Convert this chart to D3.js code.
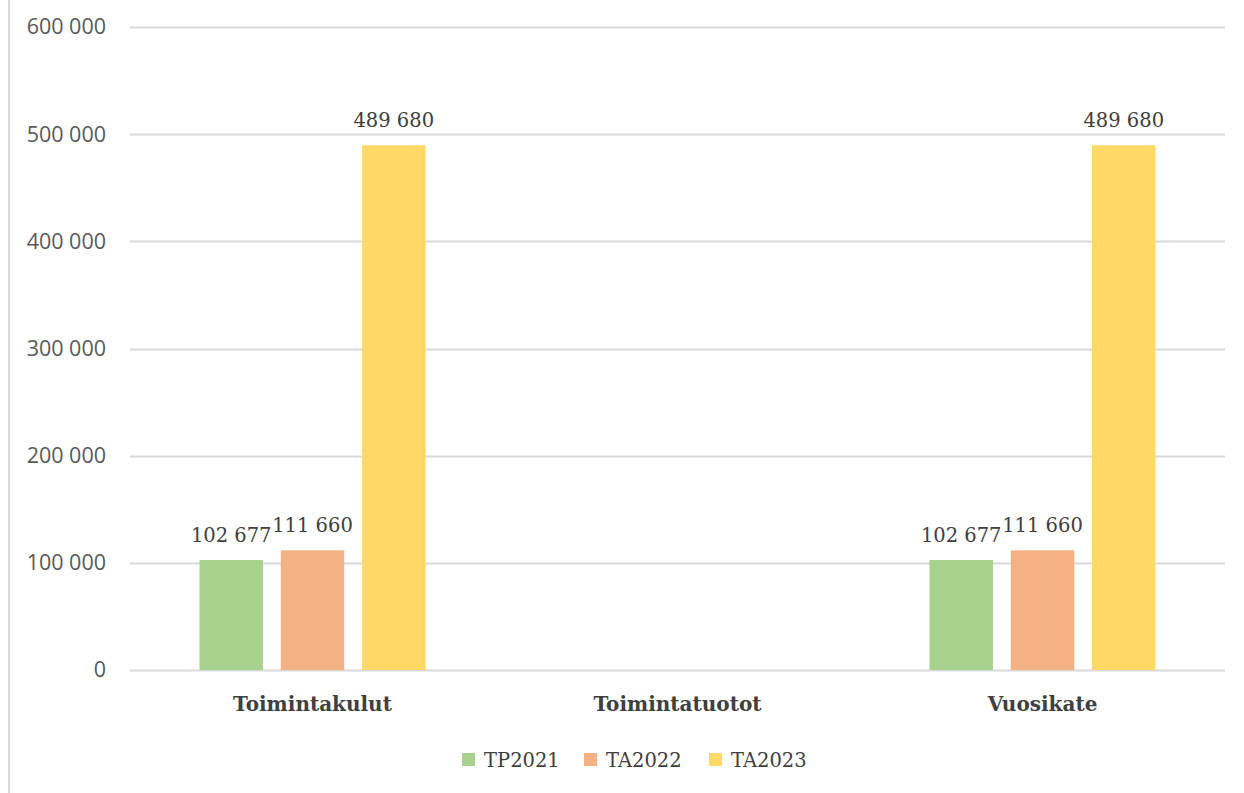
<!DOCTYPE html>
<html><head><meta charset="utf-8">
<script src="https://cdn.jsdelivr.net/npm/d3@7"></script>
<style>body{margin:0;background:#fff}svg{display:block}</style>
</head><body>
<script>
const categories = ["Toimintakulut", "Toimintatuotot", "Vuosikate"];
const seriesNames = ["TP2021", "TA2022", "TA2023"];
const TP2021 = [102677, 0, 102677];
const TA2022 = [111660, 0, 111660];
const TA2023 = [489680, 0, 489680];
const yTicks = [0, 100000, 200000, 300000, 400000, 500000, 600000];
const colors = ["#A9D18E", "#F4B183", "#FFD966"];

const seriesValues = [TP2021, TA2022, TA2023];
const W = 1244, H = 793;
const svg = d3.select("body").append("svg").attr("width", W).attr("height", H);

svg.append("line").attr("x1", 9).attr("x2", 9).attr("y1", 0).attr("y2", H)
  .attr("stroke", "#d9d9d9").attr("stroke-width", 2);

const x0 = d3.scaleBand().domain(categories).range([130, 1225]).paddingInner(0).paddingOuter(0);
const x1 = d3.scaleBand().domain(seriesNames).range([0, x0.bandwidth()]).paddingInner(0.219).paddingOuter(0.855);
const y = d3.scaleLinear().domain([0, 600000]).range([670, 27]);

const fmt = v => d3.format(",")(v).replace(/,/g, " ");

const grid = svg.append("g");
grid.selectAll("line").data(yTicks).join("line")
  .attr("x1", 130).attr("x2", 1225)
  .attr("y1", d => Math.round(y(d)) + 0.5).attr("y2", d => Math.round(y(d)) + 0.5)
  .attr("stroke", "#d9d9d9").attr("stroke-width", 2);

const yAxis = d3.axisLeft(y).tickValues(yTicks).tickFormat(fmt).tickSize(0).tickPadding(0);
const ga = svg.append("g").attr("transform", "translate(106,0)").call(yAxis);
ga.select(".domain").remove();
ga.selectAll("text").attr("font-family", "'Open Sans', sans-serif").attr("font-size", 21.5)
  .attr("fill", "#595959");

const groups = svg.append("g").selectAll("g").data(categories).join("g")
  .attr("transform", d => `translate(${x0(d)},0)`);

seriesNames.forEach((s, si) => {
  groups.filter((c, ci) => seriesValues[si][ci] > 0)
    .append("rect")
    .attr("x", x1(s)).attr("width", x1.bandwidth())
    .attr("y", (c) => y(seriesValues[si][categories.indexOf(c)]))
    .attr("height", (c) => y(0) - y(seriesValues[si][categories.indexOf(c)]))
    .attr("fill", colors[si]);
  groups.filter((c, ci) => seriesValues[si][ci] > 0)
    .append("text")
    .attr("x", x1(s) + x1.bandwidth() / 2)
    .attr("y", (c) => y(seriesValues[si][categories.indexOf(c)]) - 18)
    .attr("text-anchor", "middle")
    .attr("font-family", "'DejaVu Serif', serif").attr("font-size", 19.5)
    .attr("fill", "#404040")
    .text(c => fmt(seriesValues[si][categories.indexOf(c)]));
});

const xAxis = d3.axisBottom(x0).tickSize(0).tickPadding(0);
const gx = svg.append("g").attr("transform", "translate(0,711)").call(xAxis);
gx.select(".domain").remove();
gx.selectAll("text").attr("dy", 0).attr("font-family", "'DejaVu Serif', serif").attr("font-size", 20)
  .attr("font-weight", "bold").attr("fill", "#404040");

const legendX = [462, 584, 709];
const lg = svg.append("g").selectAll("g").data(seriesNames).join("g")
  .attr("transform", (d, i) => `translate(${legendX[i]},753)`);
lg.append("rect").attr("width", 13).attr("height", 13).attr("fill", (d, i) => colors[i]);
lg.append("text").attr("x", 22).attr("y", 14).text(d => d)
  .attr("font-family", "'DejaVu Serif', serif").attr("font-size", 19.5).attr("fill", "#404040");
</script>
</body></html>
